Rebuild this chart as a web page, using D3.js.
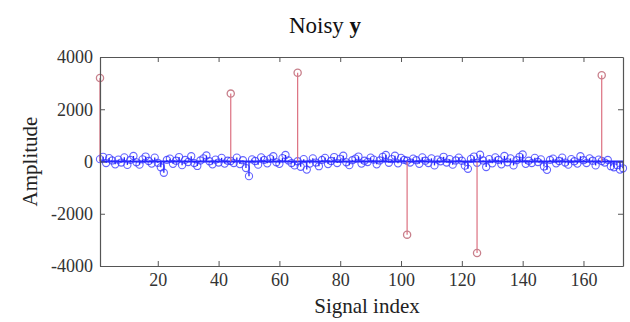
<!DOCTYPE html>
<html>
<head>
<meta charset="utf-8">
<script src="https://cdn.jsdelivr.net/npm/d3@7"></script>
<style>
  html, body { margin: 0; padding: 0; background: #fff; }
  svg { display: block; }
</style>
</head>
<body>
<svg id="chart" width="630" height="322"></svg>
<script>
// Noisy signal samples, index 1..173
const signal = [
  90, 180, -60, 130, 40, -110, 70, -40, 160, -130,
  60, 210, -30, -120, 80, 190, 20, -80, 150, -50,
  -220, -430, 60, 110, -90, 30, 170, -140, 60, -20,
  200, -60, -170, 40, 120, 230, 10, -110, 70, -40,
  140, -80, 30, 20, -60, 150, -100, 50, -250, -560,
  80, 20, -120, 160, 60, -70, 110, 200, -30, -90,
  130, 250, 40, -60, -150, 10, -200, 90, -310, -80,
  120, -40, -180, 60, 140, -100, 20, 170, -60, 100,
  220, -30, -140, 50, 110, 190, -80, 30, -20, 150,
  70, -110, 40, 180, 250, -50, 90, 220, -70, 140,
  60, 30, -40, 110, 50, -90, 160, 30, -60, 120,
  -150, 70, 10, 180, -40, 90, -120, 40, 150, 30,
  -160, -280, 100, 190, -50, 260, 40, -210, 90, -70,
  160, 60, -110, 210, -30, 120, -150, 50, 180, 270,
  -90, 30, -60, 140, -20, 80, -190, -320, 60, 110,
  -70, 20, 150, -40, -120, 90, 10, -80, 200, 50,
  -60, 120, 30, -150, 70, 20, -40, 60, -180, -220,
  -140, -310, -260
];

// Impulsive outliers
const outlierIndex = [1, 44, 66, 102, 125, 166];
const outlierValue = [3200, 2600, 3400, -2800, -3500, 3300];

const xTicks = [20, 40, 60, 80, 100, 120, 140, 160];
const yTicks = [-4000, -2000, 0, 2000, 4000];

const FONT = "'Liberation Serif', 'Times New Roman', Times, 'DejaVu Serif', serif";

const svg = d3.select("#chart");
const m = { left: 100, right: 7, top: 57, bottom: 56 };
const W = 630, H = 322;
const iw = W - m.left - m.right, ih = H - m.top - m.bottom;

const x = d3.scaleLinear().domain([1, signal.length]).range([m.left, m.left + iw]);
const y = d3.scaleLinear().domain([-4000, 4000]).range([m.top + ih, m.top]);

const g = svg.append("g");

// Blue stems
const pts = signal.map((v, i) => ({ i: i + 1, v }));
const blue = g.append("g");
blue.selectAll("line").data(pts).join("line")
  .attr("x1", d => x(d.i)).attr("x2", d => x(d.i))
  .attr("y1", y(0)).attr("y2", d => y(d.v))
  .attr("stroke", "#2020ff").attr("stroke-width", 1.3);
blue.append("line")
  .attr("x1", x(1)).attr("x2", x(signal.length))
  .attr("y1", y(0)).attr("y2", y(0))
  .attr("stroke", "#2020ff").attr("stroke-width", 2);
blue.selectAll("circle").data(pts).join("circle")
  .attr("cx", d => x(d.i)).attr("cy", d => y(d.v)).attr("r", 3.6)
  .attr("fill", "none").attr("stroke", "#3030ff").attr("stroke-width", 1.1)
  .attr("opacity", 0.75);

// Red outlier stems
const outs = outlierIndex.map((i, k) => ({ i, v: outlierValue[k] }));
const red = g.append("g");
red.selectAll("line").data(outs).join("line")
  .attr("x1", d => x(d.i)).attr("x2", d => x(d.i))
  .attr("y1", y(0)).attr("y2", d => y(d.v))
  .attr("stroke", "#dc7080").attr("stroke-width", 1.2);
red.selectAll("circle").data(outs).join("circle")
  .attr("cx", d => x(d.i)).attr("cy", d => y(d.v)).attr("r", 3.6)
  .attr("fill", "none").attr("stroke", "#c8808c").attr("stroke-width", 1.3);

// Axes box with inward ticks on all sides
const axisColor = "#555";
const tl = 5;
const fmt = d => String(d);
const bottomAxis = d3.axisBottom(x).tickValues(xTicks).tickSizeInner(-tl).tickSizeOuter(0).tickPadding(7).tickFormat(fmt);
const topAxis = d3.axisTop(x).tickValues(xTicks).tickSizeInner(-tl).tickSizeOuter(0).tickFormat("");
const leftAxis = d3.axisLeft(y).tickValues(yTicks).tickSizeInner(-tl).tickSizeOuter(0).tickPadding(7).tickFormat(fmt);
const rightAxis = d3.axisRight(y).tickValues(yTicks).tickSizeInner(-tl).tickSizeOuter(0).tickFormat("");

function style(sel) {
  sel.attr("font-family", null).attr("font-size", null);
  sel.select(".domain").attr("stroke", axisColor).attr("stroke-width", 1.2);
  sel.selectAll(".tick line").attr("stroke", axisColor);
  sel.selectAll(".tick text").style("font-family", FONT).style("font-size", "18px").attr("fill", "#333");
}
style(svg.append("g").attr("transform", `translate(0,${m.top + ih})`).call(bottomAxis));
style(svg.append("g").attr("transform", `translate(0,${m.top})`).call(topAxis));
style(svg.append("g").attr("transform", `translate(${m.left},0)`).call(leftAxis));
style(svg.append("g").attr("transform", `translate(${m.left + iw},0)`).call(rightAxis));

// Title and axis labels
const title = svg.append("text").attr("x", 325).attr("y", 33).attr("text-anchor", "middle")
  .style("font-family", FONT).style("font-size", "23px").attr("fill", "#111");
title.append("tspan").text("Noisy ");
title.append("tspan").attr("font-weight", "bold").text("y");

svg.append("text").attr("x", 367).attr("y", 313).attr("text-anchor", "middle")
  .style("font-family", FONT).style("font-size", "21px").attr("fill", "#222").text("Signal index");
svg.append("text").attr("transform", `translate(37,${y(0)}) rotate(-90)`).attr("text-anchor", "middle")
  .style("font-family", FONT).style("font-size", "21px").attr("fill", "#222").text("Amplitude");
</script>
</body>
</html>
